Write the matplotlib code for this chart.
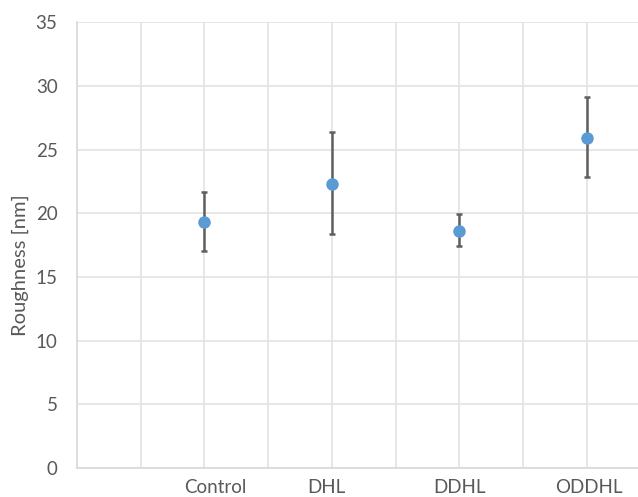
import matplotlib
matplotlib.use('Agg')
import matplotlib.pyplot as plt

plt.rcParams['font.family'] = ['Lato', 'DejaVu Sans']

samples = ['Control', 'DHL', 'DDHL', 'ODDHL']
x_pos = [2, 4, 6, 8]
label_pos = [2.17, 3.91, 6.0, 8.04]
roughness = [19.33, 22.3, 18.64, 25.9]
err_low = [2.26, 3.92, 1.21, 3.0]
err_high = [2.33, 4.07, 1.29, 3.22]
y_ticks = [0, 5, 10, 15, 20, 25, 30, 35]

fig = plt.figure(figsize=(6.38, 4.97), dpi=100)
ax = fig.add_axes([77 / 638, 1 - 468 / 497, 1 - 77 / 638, (468 - 22.5) / 497])

ax.errorbar(x_pos, roughness, yerr=[err_low, err_high], fmt='o', color='#5b9bd5',
            markersize=8, ecolor='#5f5f5f', elinewidth=1.8, capsize=2.5, capthick=1.8,
            zorder=3)

ax.set_xlim(0, (638 - 77) / 63.7)
ax.set_ylim(0, 35)
ax.set_xticks(range(0, 9))
ax.set_yticks(y_ticks)
ax.tick_params(axis='x', length=0, labelbottom=False)
ax.tick_params(axis='y', length=0, labelsize=13.5, labelcolor='#595959', pad=14)
ax.grid(True, color='#e3e3e3', linewidth=1.2)
ax.set_axisbelow(True)
for side in ['top', 'right']:
    ax.spines[side].set_visible(False)
for side in ['left', 'bottom']:
    ax.spines[side].set_color('#d9d9d9')
    ax.spines[side].set_linewidth(1.2)

# category names sit just above the bottom edge of the figure
for name, xp in zip(samples, label_pos):
    ax.annotate(name, xy=(xp, 0), xycoords=('data', 'figure fraction'),
                xytext=(0, 1), textcoords='offset pixels', ha='center', va='bottom',
                fontsize=13.5, color='#595959', annotation_clip=False)

fig.text(20 / 638, 1 - 265 / 497, 'Roughness [nm]', rotation=90, ha='center', va='center',
         fontsize=14.5, color='#595959')

fig.savefig('out.png', dpi=100)
